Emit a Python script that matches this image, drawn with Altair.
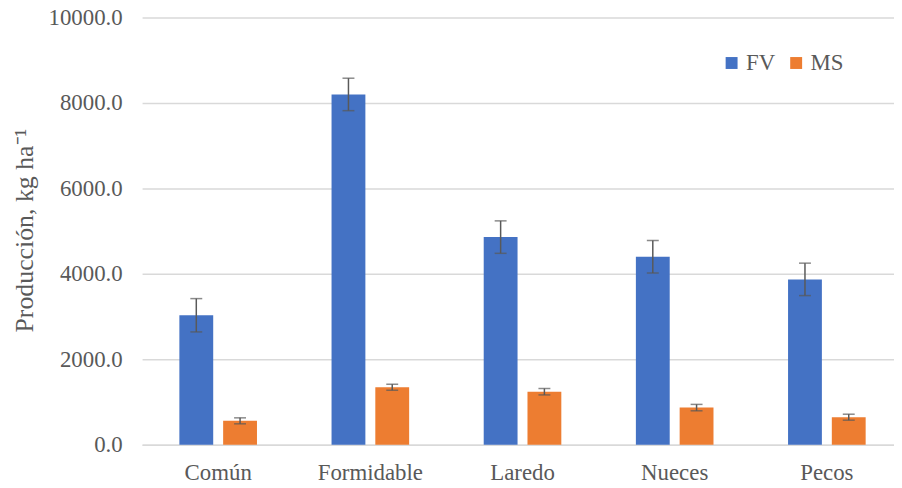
import altair as alt
import pandas as pd

cats = ["Común", "Formidable", "Laredo", "Nueces", "Pecos"]
series = ["FV", "MS"]
fv = [3030, 8200, 4860, 4400, 3870]
fv_err = [390, 380, 380, 380, 380]
ms = [558, 1345, 1240, 868, 643]
ms_err = [70, 70, 75, 75, 70]
y_ticks = [0, 2000, 4000, 6000, 8000, 10000]
colors = ["#4472C4", "#ED7D31"]

rows = []
for c, v, e in zip(cats, fv, fv_err):
    rows.append({"cat": c, "serie": "FV", "valor": v, "lo": v - e, "hi": v + e})
for c, v, e in zip(cats, ms, ms_err):
    rows.append({"cat": c, "serie": "MS", "valor": v, "lo": v - e, "hi": v + e})
df = pd.DataFrame(rows)

FONT = "Liberation Serif, Times New Roman, serif"
GREY = "#595959"

x_enc = alt.X(
    "cat:N", sort=cats,
    scale=alt.Scale(range=[0, 766], paddingInner=0.49, paddingOuter=0.245),
    axis=alt.Axis(title=None, labelAngle=0, labelFont=FONT, labelFontSize=23,
                  labelColor=GREY, labelPadding=17, ticks=False,
                  domain=True, domainColor="#D9D9D9", domainWidth=1.5),
)
xo_enc = alt.XOffset("serie:N", sort=series,
                     scale=alt.Scale(paddingInner=0.227, paddingOuter=0))
y_scale = alt.Scale(domain=[0, 10000], nice=False)

base = alt.Chart(df).encode(x=x_enc, xOffset=xo_enc)

bars = base.mark_bar().encode(
    y=alt.Y("valor:Q", scale=y_scale,
            axis=alt.Axis(values=y_ticks, format=".1f", grid=True,
                          gridColor="#D9D9D9", gridWidth=1.5, domain=False,
                          ticks=False, labelFont=FONT, labelFontSize=23,
                          labelColor=GREY, labelPadding=20,
                          title="Producción, kg ha⁻¹", titleFont=FONT,
                          titleFontSize=26, titleFontWeight="normal",
                          titleColor=GREY, titleX=-118, titleY=214,
                          titleAngle=-90, titleAlign="center",
                          titleBaseline="middle")),
    color=alt.Color("serie:N", sort=series,
                    scale=alt.Scale(domain=series, range=colors),
                    legend=alt.Legend(title=None, orient="none", legendX=582,
                                      legendY=34, direction="horizontal",
                                      padding=0,
                                      symbolType="square", symbolSize=144,
                                      symbolStrokeWidth=0, labelFont=FONT,
                                      labelFontSize=23, labelColor=GREY,
                                      labelOffset=3, columnPadding=9)),
)

rule = base.mark_rule(color=GREY, strokeWidth=1.5).encode(
    y=alt.Y("lo:Q", scale=y_scale), y2="hi:Q")
cap_hi = base.mark_tick(color=GREY, thickness=1.5, size=12).encode(
    y=alt.Y("hi:Q", scale=y_scale))
cap_lo = base.mark_tick(color=GREY, thickness=1.5, size=12).encode(
    y=alt.Y("lo:Q", scale=y_scale))

chart = alt.layer(bars, rule, cap_hi, cap_lo).properties(
    width=757, height=430,
    autosize=alt.AutoSizeParams(type="none"),
    padding={"left": 135, "top": 8, "right": 0, "bottom": 42},
).configure_view(stroke=None)

chart.save("out.html", embed_options={"renderer": "svg", "actions": False})
